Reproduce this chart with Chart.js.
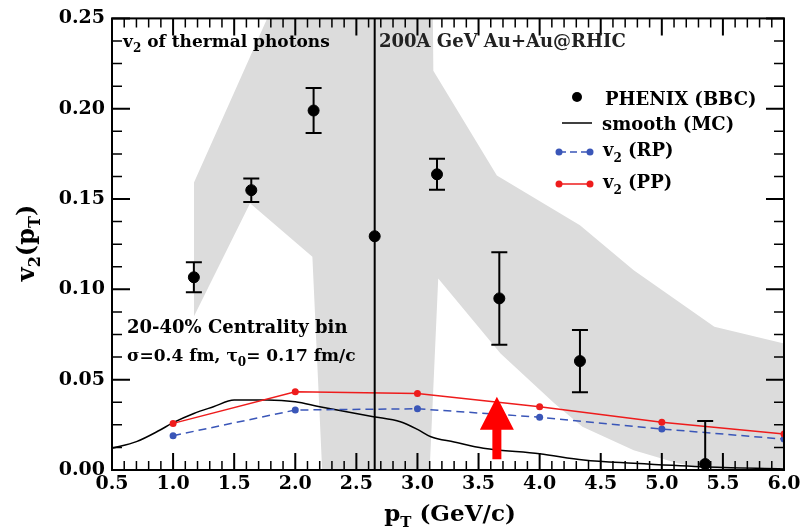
<!DOCTYPE html>
<html>
<head>
<meta charset="utf-8">
<script src="https://cdn.jsdelivr.net/npm/chart.js@4.4.1/dist/chart.umd.min.js"></script>
<style>
  html, body { margin: 0; padding: 0; background: #fff; }
  #chart { display: block; }
</style>
</head>
<body>
<canvas id="chart" width="807" height="529"></canvas>
<script>
const SERIF = "'DejaVu Serif', 'Liberation Serif', serif";

// PHENIX (BBC) points, symmetric errors
const phenixX = [1.17, 1.64, 2.15, 2.65, 3.16, 3.67, 4.33, 5.355];
const phenixY = [0.1067, 0.1549, 0.199, 0.1294, 0.1637, 0.095, 0.0603, 0.0033];
const phenixErr = [0.0083, 0.0065, 0.0125, 0.135, 0.0086, 0.0256, 0.0172, 0.0238];

// smooth (MC) curve
const smoothX = [0.5, 0.7, 0.89, 1.0, 1.17, 1.33, 1.5, 1.77, 2.0, 2.2, 2.42, 2.64, 2.86, 3.0, 3.11, 3.3, 3.54, 4.0, 4.36, 4.77, 5.32, 6.0];
const smoothY = [0.012, 0.0157, 0.022, 0.0262, 0.0313, 0.035, 0.0387, 0.0388, 0.0378, 0.035, 0.0322, 0.0295, 0.0267, 0.0225, 0.0184, 0.0155, 0.012, 0.009, 0.0055, 0.0037, 0.0018, 0.0006];

// v2 (RP) and v2 (PP)
const modelX = [1, 2, 3, 4, 5, 6];
const rpY = [0.019, 0.0332, 0.0339, 0.0292, 0.0227, 0.0171];
const ppY = [0.0258, 0.0433, 0.0424, 0.035, 0.0264, 0.0199];

// grey band (upper and lower edges)
const bandUpperX = [1.17, 1.77, 2.1, 3.12, 3.13, 3.65, 4.33, 4.77, 5.43, 6.0];
const bandUpperY = [0.159, 0.25, 0.30, 0.30, 0.221, 0.163, 0.1355, 0.1106, 0.0793, 0.070];
const bandLowerX = [1.17, 1.63, 2.14, 2.22, 3.10, 3.17, 3.68, 4.12, 4.35, 4.77, 5.13, 5.45, 6.0];
const bandLowerY = [0.085, 0.1477, 0.118, 0.0, 0.0, 0.106, 0.0645, 0.0369, 0.024, 0.011, 0.0037, 0.0, 0.0];

// red arrow
const arrowX = 3.65;
const arrowFromY = 0.006;
const arrowToY = 0.0405;

const xTickLabels = ['0.5', '1.0', '1.5', '2.0', '2.5', '3.0', '3.5', '4.0', '4.5', '5.0', '5.5', '6.0'];
const yTickLabels = ['0.00', '0.05', '0.10', '0.15', '0.20', '0.25'];

const pts = (xs, ys) => xs.map((x, i) => ({x, y: ys[i]}));
const PHENIX = 0;

function richText(ctx, x, y, parts, align) {
  let w = 0;
  parts.forEach(p => {
    ctx.font = `${p.w || 'bold'} ${p.s}px ${SERIF}`;
    w += ctx.measureText(p.t).width;
  });
  let cx = align === 'center' ? x - w / 2 : x;
  ctx.textAlign = 'left';
  ctx.textBaseline = 'alphabetic';
  parts.forEach(p => {
    ctx.font = `${p.w || 'bold'} ${p.s}px ${SERIF}`;
    ctx.fillText(p.t, cx, y + (p.dy || 0));
    cx += ctx.measureText(p.t).width;
  });
}

const errorBars = {
  id: 'errorBars',
  beforeDatasetDraw(chart, args) {
    if (args.index !== PHENIX) return;
    const {ctx, chartArea: a, scales: {x, y}} = chart;
    ctx.save();
    ctx.beginPath();
    ctx.rect(a.left, a.top, a.right - a.left, a.bottom - a.top);
    ctx.clip();
    ctx.strokeStyle = '#000';
    ctx.lineWidth = 2;
    phenixX.forEach((v, i) => {
      const px = x.getPixelForValue(v);
      const top = y.getPixelForValue(phenixY[i] + phenixErr[i]);
      const bot = y.getPixelForValue(phenixY[i] - phenixErr[i]);
      ctx.beginPath();
      ctx.moveTo(px, top); ctx.lineTo(px, bot);
      ctx.moveTo(px - 8, top); ctx.lineTo(px + 8, top);
      ctx.moveTo(px - 8, bot); ctx.lineTo(px + 8, bot);
      ctx.stroke();
    });
    ctx.restore();
  }
};

const decorations = {
  id: 'decorations',
  afterDatasetsDraw(chart) {
    const {ctx, scales: {x, y}} = chart;
    // red arrow
    const ax = x.getPixelForValue(arrowX);
    const y0 = y.getPixelForValue(arrowFromY);
    const y1 = y.getPixelForValue(arrowToY);
    const head = 33;
    ctx.save();
    ctx.fillStyle = '#ff0000';
    ctx.beginPath();
    ctx.moveTo(ax - 4.5, y0);
    ctx.lineTo(ax - 4.5, y1 + head);
    ctx.lineTo(ax - 17, y1 + head);
    ctx.lineTo(ax, y1);
    ctx.lineTo(ax + 17, y1 + head);
    ctx.lineTo(ax + 4.5, y1 + head);
    ctx.lineTo(ax + 4.5, y0);
    ctx.closePath();
    ctx.fill();
    ctx.restore();
  },
  afterDraw(chart) {
    const {ctx, chartArea: a, scales: {x, y}} = chart;
    ctx.save();
    ctx.strokeStyle = '#000';
    // inward ticks on all four sides
    for (let k = 5; k <= 60; k++) {
      const px = x.getPixelForValue(k / 10);
      const major = k % 5 === 0;
      const len = major ? 17 : 9;
      ctx.lineWidth = major ? 2 : 1.5;
      ctx.beginPath();
      ctx.moveTo(px, a.bottom); ctx.lineTo(px, a.bottom - len);
      ctx.moveTo(px, a.top); ctx.lineTo(px, a.top + len);
      ctx.stroke();
    }
    for (let k = 0; k <= 20; k++) {
      const py = y.getPixelForValue(k * 0.0125);
      const major = k % 4 === 0;
      const len = major ? 18 : 10;
      ctx.lineWidth = major ? 2 : 1.5;
      ctx.beginPath();
      ctx.moveTo(a.left, py); ctx.lineTo(a.left + len, py);
      ctx.moveTo(a.right, py); ctx.lineTo(a.right - len, py);
      ctx.stroke();
    }
    ctx.lineWidth = 2;
    ctx.strokeRect(a.left, a.top, a.right - a.left, a.bottom - a.top);

    ctx.fillStyle = '#000';
    // axis titles
    richText(ctx, 450, 521, [
      {t: 'p', s: 23}, {t: 'T', s: 15, dy: 6}, {t: ' (GeV/c)', s: 23}
    ], 'center');
    ctx.save();
    ctx.translate(34, 243);
    ctx.rotate(-Math.PI / 2);
    richText(ctx, 0, 0, [
      {t: 'v', s: 24}, {t: '2', s: 16, dy: 6}, {t: '(p', s: 24}, {t: 'T', s: 16, dy: 6}, {t: ')', s: 24}
    ], 'center');
    ctx.restore();

    // annotations
    richText(ctx, 123, 47, [
      {t: 'v', s: 17}, {t: '2', s: 12, dy: 5}, {t: ' of thermal photons', s: 17}
    ]);
    ctx.fillStyle = '#222';
    richText(ctx, 379, 47, [{t: '200A GeV Au+Au@RHIC', s: 18}]);
    ctx.fillStyle = '#000';
    richText(ctx, 127, 333, [{t: '20-40% Centrality bin', s: 18}]);
    richText(ctx, 127, 361, [
      {t: 'σ=0.4 fm, τ', s: 17}, {t: '0', s: 12, dy: 5}, {t: '= 0.17 fm/c', s: 17}
    ]);

    // legend
    ctx.fillStyle = '#000';
    ctx.beginPath();
    ctx.arc(577, 97, 5, 0, Math.PI * 2);
    ctx.fill();
    richText(ctx, 605, 105, [{t: 'PHENIX (BBC)', s: 18}]);

    ctx.lineWidth = 1.5;
    ctx.beginPath();
    ctx.moveTo(562, 123); ctx.lineTo(592, 123);
    ctx.stroke();
    richText(ctx, 602, 130, [{t: 'smooth (MC)', s: 18}]);

    const sym = (yy, color, dash) => {
      ctx.strokeStyle = color;
      ctx.fillStyle = color;
      ctx.lineWidth = 1.5;
      ctx.setLineDash(dash);
      ctx.beginPath();
      ctx.moveTo(559, yy); ctx.lineTo(590, yy);
      ctx.stroke();
      ctx.setLineDash([]);
      [559, 590].forEach(px => {
        ctx.beginPath();
        ctx.arc(px, yy, 3.5, 0, Math.PI * 2);
        ctx.fill();
      });
    };
    sym(152, '#3a56b8', [7, 4]);
    sym(184, '#ee1c1c', []);
    ctx.fillStyle = '#000';
    richText(ctx, 603, 156, [{t: 'v', s: 18}, {t: '2', s: 12, dy: 6}, {t: ' (RP)', s: 18}]);
    richText(ctx, 603, 188, [{t: 'v', s: 18}, {t: '2', s: 12, dy: 6}, {t: ' (PP)', s: 18}]);
    ctx.restore();
  }
};

const tickFont = {family: SERIF, size: 19, weight: 'bold'};

new Chart(document.getElementById('chart'), {
  type: 'line',
  data: {
    datasets: [
      {
        label: 'PHENIX (BBC)',
        data: pts(phenixX, phenixY),
        showLine: false,
        pointRadius: 5.5,
        pointBackgroundColor: '#000',
        pointBorderColor: '#000',
        order: 1
      },
      {
        label: 'v2 (PP)',
        data: pts(modelX, ppY),
        borderColor: '#ee1c1c',
        borderWidth: 1.5,
        pointRadius: 3.5,
        pointBackgroundColor: '#ee1c1c',
        pointBorderWidth: 0,
        order: 2
      },
      {
        label: 'v2 (RP)',
        data: pts(modelX, rpY),
        borderColor: '#3a56b8',
        borderWidth: 1.5,
        borderDash: [8, 5],
        pointRadius: 3.5,
        pointBackgroundColor: '#3a56b8',
        pointBorderWidth: 0,
        order: 3
      },
      {
        label: 'smooth (MC)',
        data: pts(smoothX, smoothY),
        borderColor: '#000',
        borderWidth: 1.5,
        pointRadius: 0,
        cubicInterpolationMode: 'monotone',
        order: 4
      },
      {
        label: 'band upper',
        data: pts(bandUpperX, bandUpperY),
        borderColor: 'rgba(0,0,0,0)',
        borderWidth: 0,
        pointRadius: 0,
        backgroundColor: '#dcdcdc',
        fill: '+1',
        order: 10
      },
      {
        label: 'band lower',
        data: pts(bandLowerX, bandLowerY),
        borderColor: 'rgba(0,0,0,0)',
        borderWidth: 0,
        pointRadius: 0,
        fill: false,
        order: 11
      }
    ]
  },
  options: {
    responsive: false,
    animation: false,
    layout: {padding: {top: 18, right: 23, left: 0, bottom: 0}},
    plugins: {legend: {display: false}, tooltip: {enabled: false}},
    scales: {
      x: {
        type: 'linear',
        min: 0.5,
        max: 6,
        grid: {display: false, drawTicks: false},
        border: {display: false},
        ticks: {
          stepSize: 0.5,
          padding: 3,
          maxRotation: 0,
          color: '#000',
          font: tickFont,
          callback: (v, i) => xTickLabels[i]
        },
        afterFit: s => { s.height = 59; }
      },
      y: {
        min: 0,
        max: 0.25,
        grid: {display: false, drawTicks: false},
        border: {display: false},
        ticks: {
          stepSize: 0.05,
          padding: 7,
          color: '#000',
          font: tickFont,
          callback: (v, i) => yTickLabels[i]
        },
        afterFit: s => { s.width = 112; }
      }
    }
  },
  plugins: [errorBars, decorations]
});
</script>
</body>
</html>
